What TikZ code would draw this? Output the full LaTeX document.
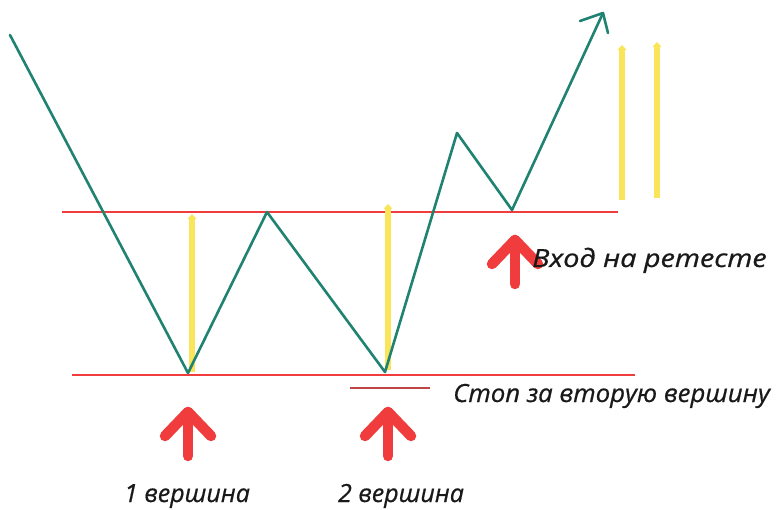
\documentclass[tikz,border=0pt]{standalone}
\usepackage{fontspec}
\setmainfont{Open Sans}
\newfontfamily\lblfont[ItalicFeatures={FakeBold=0.7}]{Open Sans}
\usetikzlibrary{arrows.meta}
\definecolor{teal1}{RGB}{32,130,112}
\definecolor{red1}{RGB}{240,60,60}
\definecolor{dred}{RGB}{190,70,70}
\definecolor{yel}{RGB}{250,228,90}
\definecolor{ink}{RGB}{25,25,25}
\tikzset{
  level/.style={red1, line width=1.6pt},
  price/.style={teal1, line width=2.6pt, line join=round, line cap=round},
  yarrow/.style={yel, line width=6pt, -{Triangle[length=5pt,width=9pt]}},
  bigarrow/.style={red1, line width=10.5pt, line cap=round, line join=round},
  lbl/.style={text=ink, font=\lblfont\itshape\fontsize{25}{30}\selectfont, anchor=base west, inner sep=0pt}
}
\begin{document}
\begin{tikzpicture}[x=1pt,y=-1pt]
\useasboundingbox (0,0) rectangle (778,510);
% levels
\coordinate (u1) at (62,212); \coordinate (u2) at (618,212);
\coordinate (l1) at (72,375); \coordinate (l2) at (635,375);
\draw[level] (u1) -- (u2);
\draw[level] (l1) -- (l2);
\coordinate (s1) at (350,388); \coordinate (s2) at (430,388);
\draw[dred, line width=2pt] (s1) -- (s2);
% yellow arrows
\coordinate (y1a) at (192,372); \coordinate (y1b) at (192,214);
\coordinate (y2a) at (388,370); \coordinate (y2b) at (388,204);
\coordinate (y3a) at (622,200); \coordinate (y3b) at (622,45);
\coordinate (y4a) at (657,198); \coordinate (y4b) at (657,42);
\draw[yarrow] (y1a) -- (y1b);
\draw[yarrow] (y2a) -- (y2b);
\draw[yarrow] (y3a) -- (y3b);
\draw[yarrow] (y4a) -- (y4b);
% price path
\coordinate (p0) at (10,35);
\coordinate (p1) at (188,373);
\coordinate (p2) at (267,212);
\coordinate (p3) at (385,372);
\coordinate (p4) at (457,133);
\coordinate (p5) at (512,210);
\coordinate (p6) at (603,13);
\coordinate (h1) at (580,21);
\coordinate (h2) at (608,33);
\draw[price] (p0) -- (p1) -- (p2) -- (p3) -- (p4) -- (p5) -- (p6);
\draw[price] (h1) -- (p6) -- (h2);
% red arrows
\foreach \n/\x/\y in {a/188/412, b/388/412, c/515/240}{
  \coordinate (\n t) at (\x,\y);
  \coordinate (\n l) at (\x-23,\y+24);
  \coordinate (\n r) at (\x+23,\y+24);
  \coordinate (\n b) at (\x,\y+44);
  \draw[bigarrow] (\n l) -- (\n t) -- (\n r);
  \draw[bigarrow] (\n t) -- (\n b);
}
% labels
\node[lbl] (t1) at (532,267) {\scalebox{1.15}[1]{Вход на ретесте}};
\node[lbl] (t2) at (453,402) {\scalebox{1.03}[1]{Стоп за вторую вершину}};
\node[lbl, anchor=base] (t3) at (187,502) {1 вершина};
\node[lbl, anchor=base] (t4) at (401,502) {2 вершина};
\end{tikzpicture}
\end{document}
